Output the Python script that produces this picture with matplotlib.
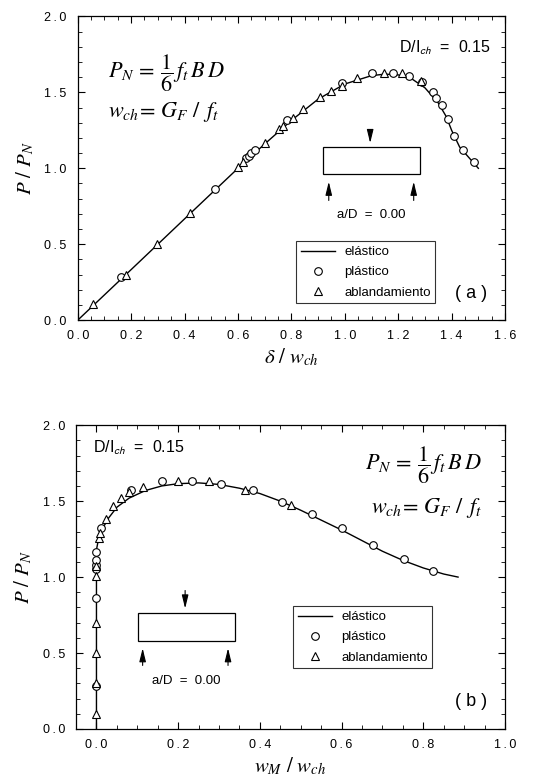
import matplotlib
matplotlib.use("Agg")
import matplotlib.pyplot as plt
from matplotlib.ticker import MultipleLocator, FuncFormatter
from matplotlib.patches import Rectangle

plt.rcParams['font.family'] = ['Liberation Sans', 'DejaVu Sans']
plt.rcParams['mathtext.fontset'] = 'stix'

# panel (a): load vs deflection
a_curve_x = [0.0, 0.2, 0.4, 0.6, 0.7, 0.8, 0.9, 1.0, 1.1, 1.15, 1.2, 1.25, 1.3, 1.35, 1.38, 1.4, 1.43, 1.46, 1.5]
a_curve_y = [0.0, 0.333, 0.667, 1.0, 1.16, 1.315, 1.455, 1.555, 1.61, 1.62, 1.615, 1.59, 1.53, 1.43, 1.34, 1.25, 1.14, 1.08, 1.0]
a_plast_x = [0.162, 0.513, 0.63, 0.64, 0.65, 0.665, 0.785, 0.99, 1.10, 1.18, 1.24, 1.29, 1.33, 1.34, 1.363, 1.388, 1.41, 1.442, 1.482]
a_plast_y = [0.285, 0.863, 1.07, 1.08, 1.10, 1.12, 1.32, 1.56, 1.63, 1.63, 1.61, 1.565, 1.50, 1.465, 1.42, 1.325, 1.215, 1.12, 1.04]
a_soft_x = [0.056, 0.18, 0.298, 0.42, 0.60, 0.62, 0.70, 0.753, 0.77, 0.805, 0.845, 0.908, 0.95, 0.99, 1.045, 1.147, 1.216, 1.285]
a_soft_y = [0.105, 0.30, 0.50, 0.705, 1.01, 1.04, 1.165, 1.26, 1.28, 1.33, 1.39, 1.47, 1.51, 1.545, 1.595, 1.63, 1.63, 1.575]

# panel (b): load vs crack mouth opening
b_curve_x = [0.0, 0.0, 0.0, 0.005, 0.015, 0.03, 0.05, 0.08, 0.12, 0.16, 0.2, 0.25, 0.3, 0.35, 0.4, 0.45, 0.5, 0.55, 0.6, 0.65, 0.7, 0.75, 0.8, 0.85, 0.885]
b_curve_y = [0.0, 1.0, 1.18, 1.25, 1.32, 1.39, 1.46, 1.52, 1.57, 1.60, 1.615, 1.62, 1.61, 1.585, 1.55, 1.50, 1.44, 1.375, 1.31, 1.24, 1.17, 1.11, 1.06, 1.02, 1.0]
b_plast_x = [0.0, 0.0, 0.0, 0.0, 0.0, 0.0, 0.01, 0.085, 0.16, 0.234, 0.305, 0.382, 0.454, 0.528, 0.601, 0.678, 0.752, 0.824]
b_plast_y = [0.283, 0.862, 1.05, 1.08, 1.11, 1.167, 1.32, 1.57, 1.63, 1.635, 1.61, 1.57, 1.495, 1.415, 1.32, 1.21, 1.116, 1.04]
b_soft_x = [0.0, 0.0, 0.0, 0.0, 0.0, 0.0, 0.006, 0.008, 0.023, 0.041, 0.059, 0.08, 0.113, 0.20, 0.275, 0.364, 0.475]
b_soft_y = [0.10, 0.30, 0.50, 0.70, 1.01, 1.07, 1.255, 1.29, 1.385, 1.47, 1.52, 1.56, 1.59, 1.635, 1.63, 1.575, 1.474]

fig = plt.figure(figsize=(5.55, 7.81), dpi=100)
ax_a = fig.add_axes([0.14, 0.590, 0.770, 0.389])
ax_b = fig.add_axes([0.137, 0.0666, 0.773, 0.389])

mk = dict(linestyle='none', markerfacecolor='white', markeredgecolor='black',
          markeredgewidth=0.8, markersize=5.5)

# tick labels in the original are slightly letter-spaced
spaced = FuncFormatter(lambda v, p: '\u2009'.join('%.1f' % (0.0 if abs(v) < 1e-9 else v)))


def style_axes(ax, xlim, xlab):
    ax.set_xlim(*xlim)
    ax.set_ylim(0, 2.0)
    ax.xaxis.set_major_locator(MultipleLocator(0.2))
    ax.xaxis.set_minor_locator(MultipleLocator(0.05))
    ax.yaxis.set_major_locator(MultipleLocator(0.5))
    ax.yaxis.set_minor_locator(MultipleLocator(0.1))
    ax.xaxis.set_major_formatter(spaced)
    ax.yaxis.set_major_formatter(spaced)
    ax.tick_params(which='both', direction='in', top=True, right=True, labelsize=9)
    ax.tick_params(which='major', length=5, width=0.8)
    ax.tick_params(which='minor', length=3, width=0.6)
    ax.tick_params(axis='x', pad=7)
    ax.tick_params(axis='y', pad=8)
    for s in ax.spines.values():
        s.set_linewidth(0.9)
    ax.set_xlabel(xlab, fontsize=15, labelpad=3)
    ax.set_ylabel(r'$P\ /\ P_N$', fontsize=15, labelpad=6)


def beam(ax, x0, x1, y0, y1, top_x, sup_x, tail_top, tail_bot, tip_bot, lbl_y):
    ax.add_patch(Rectangle((x0, y0), x1 - x0, y1 - y0, fill=False, lw=0.9,
                           edgecolor='black', zorder=3))
    arr = dict(arrowstyle='-|>,head_length=0.9,head_width=0.22', color='black',
               lw=0.8, mutation_scale=9)
    ax.annotate('', xy=(top_x, y1 + 0.01), xytext=(top_x, tail_top), arrowprops=arr)
    for sx in sup_x:
        ax.annotate('', xy=(sx, tip_bot), xytext=(sx, tail_bot), arrowprops=arr)
    ax.text((x0 + x1) / 2, lbl_y, 'a/D  =  0.00', ha='center', va='center', fontsize=9.5)


def add_legend(ax, anchor):
    leg = ax.legend(loc='lower left', bbox_to_anchor=anchor, fontsize=9.5,
                    frameon=True, fancybox=False, edgecolor='black', handlelength=2.6,
                    handletextpad=0.7, borderpad=0.35, labelspacing=0.6,
                    borderaxespad=0)
    leg.get_frame().set_linewidth(0.8)


PN_TXT = r'$P_N\,=\,\dfrac{1}{6}\,f_t\,B\,D$'
WCH_TXT = r'$w_{ch}\!=\,G_F\ /\ \,f_t$'
DL_TXT = r'D/I$_{\mathsf{ch}}$  =  0.15'

# ---- panel (a)
ax_a.plot(a_curve_x, a_curve_y, color='black', lw=1.0, label='elástico')
ax_a.plot(a_plast_x, a_plast_y, marker='o', label='plástico', **mk)
ax_a.plot(a_soft_x, a_soft_y, marker='^', label='ablandamiento', **mk)
style_axes(ax_a, (0, 1.6), r'$\delta\ /\ w_{ch}$')
ax_a.text(1.545, 1.79, DL_TXT, ha='right', va='center', fontsize=11.5)
ax_a.text(0.112, 1.63, PN_TXT, fontsize=16, va='center')
ax_a.text(0.112, 1.37, WCH_TXT, fontsize=16, va='center')
beam(ax_a, 0.919, 1.282, 0.96, 1.138, 1.095, [0.94, 1.258], 1.27, 0.77, 0.93, 0.69)
ax_a.text(0.883, 0.089, '( a )', transform=ax_a.transAxes, fontsize=13, va='center')
add_legend(ax_a, (0.511, 0.056))

# ---- panel (b)
ax_b.plot(b_curve_x, b_curve_y, color='black', lw=1.0, label='elástico')
ax_b.plot(b_plast_x, b_plast_y, marker='o', label='plástico', **mk)
ax_b.plot(b_soft_x, b_soft_y, marker='^', label='ablandamiento', **mk)
style_axes(ax_b, (-0.05, 1.0), r'$w_M\ /\ w_{ch}$')
ax_b.text(0.04, 0.925, DL_TXT, transform=ax_b.transAxes, ha='left', va='center', fontsize=11.5)
ax_b.text(0.946, 0.868, PN_TXT, transform=ax_b.transAxes, fontsize=16, ha='right', va='center')
ax_b.text(0.946, 0.727, WCH_TXT, transform=ax_b.transAxes, fontsize=16, ha='right', va='center')
beam(ax_b, 0.102, 0.339, 0.579, 0.765, 0.217, [0.113, 0.322], 0.93, 0.40, 0.55, 0.316)
ax_b.text(0.883, 0.089, '( b )', transform=ax_b.transAxes, fontsize=13, va='center')
add_legend(ax_b, (0.506, 0.20))

fig.savefig('out.png', dpi=100)
